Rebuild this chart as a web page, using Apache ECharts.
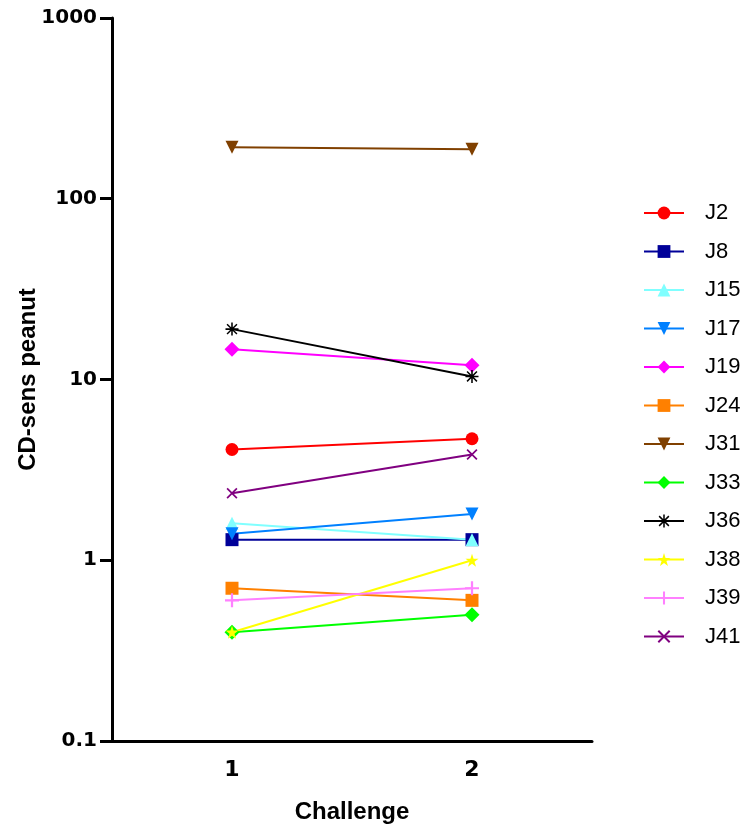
<!DOCTYPE html>
<html>
<head>
<meta charset="utf-8">
<script src="https://cdn.jsdelivr.net/npm/echarts@6/dist/echarts.min.js"></script>
<style>html,body{margin:0;padding:0;background:#fff;}#chart{width:750px;height:831px;}</style>
</head>
<body>
<div id="chart"></div>
<script>
var categories = ['1', '2'];
var seriesNames = ['J2', 'J8', 'J15', 'J17', 'J19', 'J24', 'J31', 'J33', 'J36', 'J38', 'J39', 'J41'];
var J2 = [4.1, 4.7];
var J8 = [1.3, 1.3];
var J15 = [1.6, 1.3];
var J17 = [1.4, 1.8];
var J19 = [14.7, 12];
var J24 = [0.7, 0.6];
var J31 = [193, 188];
var J33 = [0.4, 0.5];
var J36 = [19, 10.4];
var J38 = [0.4, 1.0];
var J39 = [0.6, 0.7];
var J41 = [2.35, 3.85];
var yTicks = [0.1, 1, 10, 100, 1000];
var seriesValues = [J2, J8, J15, J17, J19, J24, J31, J33, J36, J38, J39, J41];

var PLUS = 'path://M4.2,0 H5.8 V10 H4.2 Z M0,4.2 H10 V5.8 H0 Z';
var XS = 'path://M0,1.1 L1.1,0 L10,8.9 L8.9,10 Z M8.9,0 L10,1.1 L1.1,10 L0,8.9 Z';
var AST = 'path://M4.4,0 H5.6 V10 H4.4 Z M0,4.4 H10 V5.6 H0 Z M0.8,1.6 L1.6,0.8 L9.2,8.4 L8.4,9.2 Z M8.4,0.8 L9.2,1.6 L1.6,9.2 L0.8,8.4 Z';
var STAR = 'path://M5,0 L6.2,3.6 L10,3.6 L6.9,5.9 L8.1,9.5 L5,7.3 L1.9,9.5 L3.1,5.9 L0,3.6 L3.8,3.6 Z';

var styles = [
  {color: '#ff0000', symbol: 'circle', size: 13, rot: 0},
  {color: '#000099', symbol: 'rect', size: 13, rot: 0},
  {color: '#80ffff', symbol: 'triangle', size: 13, rot: 0},
  {color: '#0080ff', symbol: 'triangle', size: 13, rot: 180},
  {color: '#ff00ff', symbol: 'diamond', size: 15, rot: 0},
  {color: '#ff8000', symbol: 'rect', size: 13, rot: 0},
  {color: '#804000', symbol: 'triangle', size: 13, rot: 180},
  {color: '#00ff00', symbol: 'diamond', size: 15, rot: 0},
  {color: '#000000', symbol: AST, size: 13, rot: 0},
  {color: '#ffff00', symbol: STAR, size: 13, rot: 0},
  {color: '#ff80ff', symbol: PLUS, size: 14, rot: 0},
  {color: '#800080', symbol: XS, size: 11, rot: 0}
];

var series = seriesNames.map(function (name, i) {
  var s = styles[i];
  return {
    name: name,
    type: 'line',
    data: seriesValues[i],
    symbol: s.symbol,
    symbolSize: s.size,
    symbolRotate: s.rot,
    showAllSymbol: true,
    lineStyle: {color: s.color, width: 2},
    itemStyle: {color: s.color, borderWidth: 0},
    emphasis: {disabled: true},
    animation: false
  };
});

var chart = echarts.init(document.getElementById('chart'), null, {renderer: 'canvas'});
chart.setOption({
  backgroundColor: '#ffffff',
  animation: false,
  grid: {left: 112, right: 158, top: 18, bottom: 90, containLabel: false},
  legend: {
    orient: 'vertical',
    left: 643,
    top: 202,
    padding: 0,
    itemWidth: 40,
    itemHeight: 16,
    itemGap: 16.5,
    data: seriesNames,
    textStyle: {fontFamily: 'Liberation Sans', fontSize: 22, color: '#000', padding: [0, 0, 0, 16]}
  },
  xAxis: {
    type: 'category',
    data: categories,
    boundaryGap: true,
    name: 'Challenge',
    nameLocation: 'middle',
    nameGap: 59,
    nameTextStyle: {fontFamily: 'Liberation Sans', fontWeight: 'bold', fontSize: 24, color: '#000'},
    axisLine: {lineStyle: {color: '#000', width: 3}},
    axisTick: {alignWithLabel: true, length: 10, lineStyle: {color: '#000', width: 3}},
    axisLabel: {fontFamily: 'DejaVu Sans', fontWeight: 'bold', fontSize: 22, color: '#000', margin: 18},
    splitLine: {show: false}
  },
  yAxis: {
    type: 'log',
    logBase: 10,
    min: yTicks[0],
    max: yTicks[yTicks.length - 1],
    name: 'CD-sens peanut',
    nameLocation: 'middle',
    nameGap: 72,
    nameMoveOverlap: false,
    nameRotate: 90,
    nameTextStyle: {fontFamily: 'Liberation Sans', fontWeight: 'bold', fontSize: 24, color: '#000'},
    axisLine: {show: true, lineStyle: {color: '#000', width: 3}},
    axisTick: {show: true, length: 12, lineStyle: {color: '#000', width: 3}},
    minorTick: {show: false},
    axisLabel: {
      fontFamily: 'DejaVu Sans', fontWeight: 'bold', fontSize: 20, color: '#000', margin: 15,
      formatter: function (v) { return String(v); }
    },
    splitLine: {show: false}
  },
  series: series
});
</script>
</body>
</html>
